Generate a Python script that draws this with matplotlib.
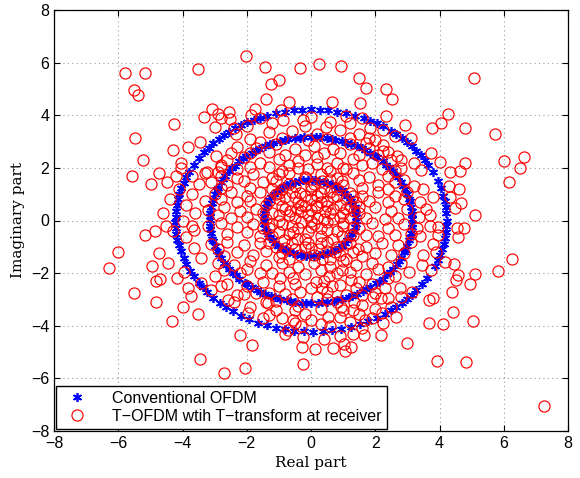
import numpy as np
import matplotlib
matplotlib.use("Agg")
import matplotlib.pyplot as plt

# ---- Conventional OFDM: three constellation rings (radius, centre, angles in deg)
ring_radius = [1.44, 3.15, 4.22]
ring_center_re = [-0.03, 0.0, 0.0]
ring_center_im = [0.10, 0.02, 0.0]

inner_deg = [2, 7, 11, 16, 22, 27, 31, 36, 42, 47, 53, 58, 62, 68, 73, 79, 84, 88,
             93, 99, 104, 109, 115, 120, 124, 130, 136, 141, 147, 152, 157, 163,
             168, 172, 178, 184, 189, 195, 200, 205, 211, 216, 221, 227, 232, 238,
             243, 248, 254, 259, 265, 270, 275, 281, 286, 292, 297, 302, 308, 313,
             319, 324, 329, 335, 340, 346, 351, 356]

middle_deg = [1, 4, 6, 9, 13, 15, 18, 22, 24, 27, 31, 33, 36, 40, 42, 45, 49, 51,
              54, 58, 60, 63, 67, 69, 72, 76, 78, 81, 85, 87, 90, 94, 96, 99, 103,
              105, 108, 112, 114, 117, 121, 123, 126, 130, 132, 135, 139, 141, 144,
              148, 150, 153, 157, 159, 162, 166, 168, 171, 175, 177, 180, 184, 186,
              189, 193, 195, 198, 202, 204, 207, 211, 213, 216, 220, 222, 225, 229,
              231, 234, 238, 240, 243, 247, 249, 252, 256, 258, 261, 265, 267, 270,
              274, 276, 279, 283, 285, 288, 292, 294, 297, 301, 303, 306, 310, 312,
              315, 319, 321, 324, 328, 330, 333, 337, 339, 342, 346, 348, 351, 355, 357]

outer_deg = [0, 4, 7, 10, 13, 17, 21, 26, 30, 33, 36, 39, 42, 45, 48, 51, 54, 58,
             61, 64, 67, 71, 75, 79, 83, 86, 90, 94, 97, 101, 105, 109, 112, 115,
             118, 121, 124, 127, 130, 133, 136, 139, 142, 146, 150, 154, 157, 160,
             163, 166, 169, 172, 175, 178, 181, 184, 187, 190, 193, 196, 200, 203,
             207, 210, 214, 217, 220, 224, 228, 231, 235, 239, 243, 247, 251, 255,
             259, 263, 267, 271, 275, 279, 283, 287, 291, 295, 299, 303, 306, 309,
             312, 315, 318, 321, 325, 329, 336, 339, 342, 345, 348, 351, 354, 357]

ring_angles = [inner_deg, middle_deg, outer_deg]

# ---- T-OFDM with T-transform at receiver: received symbols (real, imag)
tofdm_points = [
    # outer scattered, upper left
    (-5.79, 5.62), (-5.16, 5.62), (-5.52, 4.96), (-5.38, 4.76), (-3.53, 5.75),
    (-2.01, 6.27), (-1.43, 5.85), (-1.01, 5.33), (-1.26, 5.19), (-0.34, 5.78),
    (-1.39, 4.63), (-0.68, 4.51), (-4.26, 3.66), (-5.49, 3.14), (-5.23, 2.29),
    (-5.57, 1.70), (-4.98, 1.38), (-4.74, 1.82), (-4.31, 2.67), (-3.83, 2.78),
    (-3.45, 2.99), (-3.33, 3.94), (-3.07, 4.25), (-2.90, 4.04), (-2.56, 4.13),
    (-2.80, 3.89), (-3.00, 3.54), (-2.52, 3.85), (-2.32, 3.27), (-1.75, 4.24),
    (-1.88, 4.01), (-0.92, 4.20), (-0.88, 3.82), (-0.26, 3.82), (-2.97, 2.47),
    (-4.06, 2.18), (-4.48, 1.47), (-4.04, 1.99), (-3.24, 1.84), (-2.79, 2.05),
    (-4.20, 1.71),
    # outer scattered, upper right
    (0.26, 5.95), (0.93, 5.87), (1.49, 5.43), (1.70, 5.05), (2.34, 5.00),
    (2.51, 4.63), (1.51, 4.48), (0.65, 4.51), (5.07, 5.43), (4.25, 4.04),
    (4.04, 3.70), (3.78, 3.51), (4.78, 3.52), (5.73, 3.28), (6.63, 2.43),
    (6.00, 2.28), (6.51, 2.01), (6.15, 1.46), (4.80, 2.18), (4.63, 1.90),
    (4.33, 1.84), (4.02, 2.24), (3.73, 2.56), (3.41, 1.91), (2.94, 3.63),
    (3.10, 3.13), (2.67, 2.47), (2.34, 3.97), (2.23, 3.44), (1.83, 3.51),
    (1.79, 3.15), (1.10, 3.97), (0.46, 3.57), (5.10, 0.20), (4.66, 0.68),
    (4.47, 0.47), (4.34, 0.91), (3.59, 0.43), (2.23, 2.87), (2.24, 2.66),
    # outer scattered, lower left
    (-6.00, -1.18), (-6.30, -1.79), (-5.52, -2.76), (-5.17, -0.57), (-4.86, -0.40),
    (-4.50, -0.21), (-4.95, -1.73), (-4.82, -2.30), (-4.69, -2.23), (-4.82, -3.11),
    (-4.34, -3.82), (-4.44, -1.63), (-4.16, -2.20), (-3.97, -3.30), (-3.52, -3.55),
    (-3.73, -2.87), (-3.45, -5.27), (-2.70, -5.80), (-2.22, -4.35), (-1.85, -4.73),
    (-0.26, -5.45), (-0.29, -4.79), (-0.25, -4.44), (-0.71, -4.16), (-0.57, -3.78),
    (-0.50, -3.40), (-1.33, -3.14), (-1.96, -3.52), (-2.58, -3.02), (-3.10, -2.64),
    (-3.42, -2.39), (-3.83, -2.57), (-3.94, -1.94), (-3.42, -1.44), (-3.63, -1.06),
    (-3.89, -0.61), (-3.63, -0.36), (-4.72, -1.25), (-2.05, -5.60),
    # outer scattered, lower right
    (6.25, -1.46), (5.81, -1.92), (5.10, -2.04), (4.96, -2.42), (4.58, -2.09),
    (4.51, -2.26), (4.45, -1.64), (4.38, -2.70), (4.43, -3.46), (5.03, -3.82),
    (4.11, -3.94), (3.67, -3.88), (3.67, -3.02), (3.80, -2.93), (2.99, -4.64),
    (3.93, -5.34), (4.84, -5.37), (7.26, -7.04), (2.19, -4.35), (1.65, -4.35),
    (1.25, -4.79), (1.07, -4.95), (1.04, -4.69), (0.70, -4.85), (0.13, -4.89),
    (4.17, -1.56), (3.90, -1.20), (3.44, -1.69), (3.75, -1.88), (3.04, -1.94),
    (3.13, -2.70), (2.76, -2.57), (2.50, -3.27), (2.66, -3.65), (2.24, -3.90),
    (2.40, -2.95), (2.19, -2.96), (1.93, -2.89), (1.30, -3.40), (1.67, -3.78),
    (0.94, -3.27), (0.52, -3.65), (4.58, -0.61), (4.77, -0.30), (4.53, -0.30),
    (3.94, -0.23), (3.96, -0.55), (3.70, -0.21),
    # ring band 3.2 - 4.5
    (-4.1, 1.2), (-3.7, 1.0), (-4.4, 0.8), (-3.9, 0.6), (-3.6, 0.3), (-4.6, 0.3),
    (-4.0, 0.0), (-3.7, -0.2), (-4.3, -0.4), (-3.5, 1.4), (-3.3, 1.8), (-3.7, 1.7),
    (3.5, 1.2), (3.8, 0.9), (3.4, 0.7), (3.7, 0.2), (3.4, -0.6), (3.8, -0.9),
    (3.5, -1.3), (4.6, 1.2), (4.3, 1.3), (3.2, 2.2), (2.8, 2.3), (-2.0, 3.6),
    (-1.6, 3.9), (-1.2, 3.7), (0.0, 3.95), (1.2, 3.7), (1.6, 3.9), (-2.4, 3.5),
    (2.6, 3.2), (-3.0, -2.1), (-2.8, -2.5), (-1.4, -3.1), (-2.4, -3.1), (2.8, -2.9),
    (1.9, -3.7), (-0.3, -4.0), (1.6, -4.1),
    # dense inner cloud
    (-1.3, 3.35), (-0.6, 3.4), (0.2, 3.3), (0.9, 3.45), (1.5, 3.3), (-1.9, 3.1),
    (2.0, 3.05), (-0.2, 3.6), (0.6, 3.75),
    (-2.3, 2.8), (-1.7, 2.75), (-1.1, 2.9), (-0.5, 2.7), (0.1, 2.85), (0.7, 2.7),
    (1.2, 2.9), (1.8, 2.75), (2.4, 2.6), (-0.8, 2.5), (0.4, 2.55), (1.5, 2.5),
    (-2.6, 2.3), (-2.1, 2.4), (-1.6, 2.2), (-1.0, 2.35), (-0.4, 2.25), (0.2, 2.4),
    (0.8, 2.2), (1.3, 2.35), (1.9, 2.2), (2.5, 2.3), (-1.3, 2.05), (0.5, 2.0),
    (2.2, 1.95), (-2.3, 1.95), (-0.1, 1.95),
    (-2.8, 1.7), (-2.3, 1.6), (-1.8, 1.75), (-1.2, 1.6), (-0.7, 1.8), (-0.2, 1.65),
    (0.3, 1.75), (0.8, 1.6), (1.3, 1.8), (1.8, 1.65), (2.4, 1.7), (2.9, 1.55),
    (-1.5, 1.45), (0.1, 1.4), (1.0, 1.35), (-2.6, 1.35), (2.1, 1.35), (-0.5, 1.3),
    (-3.0, 1.0), (-2.5, 1.1), (-2.0, 0.95), (-1.6, 1.1), (-1.1, 1.0), (-0.6, 1.1),
    (-0.2, 0.95), (0.3, 1.05), (0.7, 0.9), (1.2, 1.05), (1.6, 0.95), (2.1, 1.1),
    (2.6, 0.95), (3.0, 1.1), (-1.3, 0.75), (-0.4, 0.7), (0.5, 0.75), (1.4, 0.7),
    (-2.3, 0.7), (2.4, 0.7), (0.0, 0.8), (0.9, 0.6), (-0.9, 0.55),
    (-3.2, 0.4), (-2.7, 0.5), (-2.2, 0.35), (-1.7, 0.45), (-1.2, 0.3), (-0.8, 0.45),
    (-0.3, 0.35), (0.2, 0.5), (0.6, 0.3), (1.1, 0.45), (1.5, 0.3), (2.0, 0.5),
    (2.5, 0.35), (3.0, 0.45), (-0.5, 0.1), (0.4, 0.05), (1.2, 0.1), (-1.4, 0.05),
    (-2.5, 0.1), (2.3, 0.05), (-0.1, 0.2), (0.9, 0.15),
    (-3.2, -0.2), (-2.8, -0.1), (-2.3, -0.25), (-1.8, -0.15), (-1.3, -0.3),
    (-0.9, -0.15), (-0.4, -0.3), (0.1, -0.15), (0.5, -0.35), (1.0, -0.2),
    (1.5, -0.3), (1.9, -0.1), (2.4, -0.3), (2.9, -0.15), (3.3, -0.3), (-0.7, -0.5),
    (0.3, -0.6), (1.2, -0.55), (-1.6, -0.6), (2.1, -0.6), (-0.1, -0.45),
    (-3.1, -0.9), (-2.6, -0.8), (-2.1, -0.95), (-1.6, -0.85), (-1.1, -1.0),
    (-0.6, -0.85), (-0.2, -1.0), (0.3, -0.85), (0.8, -1.0), (1.2, -0.85),
    (1.7, -1.0), (2.2, -0.85), (2.7, -0.95), (3.1, -0.8), (-0.9, -1.25),
    (0.1, -1.3), (0.9, -1.3), (1.6, -1.35), (-1.8, -1.3), (-2.7, -1.35),
    (2.5, -1.3), (0.5, -1.15),
    (-2.9, -1.6), (-2.4, -1.7), (-1.9, -1.55), (-1.4, -1.7), (-0.9, -1.6),
    (-0.4, -1.75), (0.1, -1.6), (0.6, -1.75), (1.0, -1.55), (1.4, -1.7),
    (1.9, -1.6), (2.4, -1.75), (2.8, -1.6), (-1.2, -2.0), (-0.2, -2.05),
    (0.8, -2.0), (0.4, -2.3), (1.7, -2.05), (-2.2, -2.0), (2.6, -2.1),
    (-2.6, -2.4), (-2.0, -2.5), (-1.5, -2.35), (-1.0, -2.5), (-0.5, -2.4),
    (0.0, -2.55), (0.5, -2.7), (0.9, -2.45), (1.4, -2.55), (1.9, -2.4),
    (2.3, -2.55), (-1.7, -2.75), (-0.8, -2.8), (0.2, -2.9), (1.1, -2.85),
    (0.8, -3.1), (-2.3, -2.85),
    (-1.9, -3.3), (-1.1, -3.4), (-0.4, -3.25), (0.3, -3.35), (1.0, -3.4),
    (1.6, -3.2), (2.0, -3.35), (-0.9, -3.7), (0.0, -3.8), (0.6, -4.0),
    (1.2, -3.85), (-1.5, -3.7), (0.9, -4.4), (0.4, -4.5), (-0.8, -4.3),
    (-1.2, 1.2), (-0.7, 1.4), (0.4, 1.25), (0.8, 1.2), (1.3, 0.95), (-1.0, 0.2),
    (-0.3, 0.6), (0.2, 0.95), (0.7, 0.45), (1.0, -0.1), (-0.6, -0.2), (-0.2, -0.7),
    (0.3, -0.3), (0.7, -0.7), (1.1, -0.9), (-1.2, -0.6), (-0.5, -1.1), (0.0, -1.05),
    (0.6, -1.45), (1.3, -0.55), (-1.4, 0.6), (-0.8, 0.9), (0.0, 0.4), (0.5, -0.05),
    (-0.3, -0.05), (0.35, 1.5), (-0.35, 1.05), (0.95, 1.5), (-1.1, 1.5), (1.5, 0.5),
    (-1.5, -0.3), (1.45, -1.1), (-1.0, -1.4), (0.2, 0.1), (-0.7, 0.2), (0.8, 0.95),
    (-0.15, 1.6), (0.6, 1.9), (1.1, 1.95), (-0.4, 2.0), (-0.9, 1.9), (0.95, -1.9),
    (0.15, -2.35), (-0.55, -2.2), (0.65, -2.5), (1.25, -2.25),
    # second layer of the inner cloud
    (-1.6, 3.0), (-0.9, 3.15), (-0.1, 3.05), (0.5, 3.1), (1.2, 3.15), (1.7, 2.95),
    (-2.5, 2.55), (-1.9, 2.55), (-1.3, 2.6), (-0.2, 2.5), (0.9, 2.55), (2.1, 2.5),
    (-2.8, 2.1), (2.8, 2.0), (-1.9, 2.05), (-0.7, 2.1), (0.2, 2.15), (1.0, 2.0),
    (1.6, 2.1), (-2.9, 1.85), (2.6, 1.9), (-2.1, 1.5), (-1.0, 1.75), (0.6, 1.55),
    (1.5, 1.55), (2.6, 1.45), (-3.1, 1.45), (3.2, 1.3), (-2.8, 1.25), (-1.9, 1.25),
    (-0.9, 1.2), (0.0, 1.15), (1.6, 1.25), (2.4, 1.2), (2.9, 0.8), (-2.8, 0.8),
    (-1.9, 0.75), (-1.0, 0.8), (-0.2, 0.55), (0.3, 0.7), (1.1, 0.8), (1.8, 0.75),
    (-3.3, 0.75), (-2.9, 0.2), (-2.0, 0.15), (-1.0, 0.0), (0.0, 0.0), (0.7, 0.05),
    (1.7, 0.1), (2.7, 0.1), (3.35, 0.15), (-1.5, 0.3), (0.45, 0.35), (-0.65, 0.35),
    (1.35, 0.35), (-2.6, -0.5), (-2.0, -0.45), (-1.0, -0.45), (0.0, -0.25),
    (0.8, -0.4), (1.7, -0.55), (2.6, -0.55), (3.1, -0.5), (-0.45, -0.7), (0.5, -0.8),
    (-1.3, -0.85), (-2.9, -1.1), (-2.3, -1.2), (-1.4, -1.15), (-0.35, -1.3),
    (0.35, -1.45), (1.3, -1.2), (2.0, -1.25), (2.9, -1.25), (-0.7, -1.45),
    (1.1, -1.45), (-2.7, -1.9), (-2.0, -1.85), (-1.6, -2.0), (-0.7, -1.95),
    (0.3, -1.9), (1.2, -1.95), (2.1, -1.85), (2.4, -2.2), (-0.95, -2.2),
    (0.55, -2.1), (1.5, -2.35), (-2.1, -2.8), (-1.3, -2.75), (-0.35, -2.7),
    (0.35, -2.55), (1.6, -2.85), (2.0, -2.75), (-0.6, -3.0), (0.5, -3.0),
    (1.35, -3.1), (-1.1, -3.05), (-1.3, -3.6), (-0.2, -3.55), (0.9, -3.65),
    (1.5, -3.55), (0.3, -3.95), (-0.5, -3.9), (1.3, -4.3), (2.2, -3.5),
    (-1.0, 1.05), (-0.5, 0.9), (0.6, 1.1), (1.2, 0.55), (-1.2, -0.15), (-0.85, -0.75),
    (0.25, -1.1), (0.95, -0.6), (0.15, 0.6), (-0.45, 0.45), (0.5, 0.55), (1.0, 0.3),
    (-0.1, -0.85), (0.75, -1.2), (-0.55, -0.45), (0.0, 1.3), (-0.8, -1.05), (1.3, -0.25),
]

tick_vals = [-8, -6, -4, -2, 0, 2, 4, 6, 8]

# ---- build coordinates
conv_re = []
conv_im = []
for r, cx, cy, angs in zip(ring_radius, ring_center_re, ring_center_im, ring_angles):
    a = np.deg2rad(np.array(angs, dtype=float))
    conv_re.extend(cx + r * np.cos(a))
    conv_im.extend(cy + r * np.sin(a))

t_re = [p[0] for p in tofdm_points]
t_im = [p[1] for p in tofdm_points]

fig = plt.figure(figsize=(5.8, 4.78), dpi=100)
ax = fig.add_axes([54 / 580, 1 - 431 / 478, 514 / 580, 421 / 478])

asterisk = (6, 2, 0)
ax.plot(conv_re, conv_im, linestyle="none", marker=asterisk, markersize=6.5,
        markeredgewidth=1.2, color="#0000ff", label="Conventional OFDM")
ax.plot(t_re, t_im, linestyle="none", marker="o", markersize=8,
        markerfacecolor="none", markeredgewidth=0.85, markeredgecolor="#ff0000",
        label="T\u2212OFDM wtih T\u2212transform at receiver")

ax.set_xlim(-8, 8)
ax.set_ylim(-8, 8)
ax.set_xticks(tick_vals)
ax.set_yticks(tick_vals)
ax.set_xticklabels(["\u2212" + str(-t) if t < 0 else str(t) for t in tick_vals],
                   family="Liberation Sans", fontsize=11.5)
ax.set_yticklabels(["\u2212" + str(-t) if t < 0 else str(t) for t in tick_vals],
                   family="Liberation Sans", fontsize=11.5)
ax.tick_params(direction="in", top=True, right=True, length=4, width=0.8)
ax.grid(True, linestyle=(0, (1, 3)), color="#9a9a9a", linewidth=0.8)
for s in ax.spines.values():
    s.set_linewidth(0.9)

ax.set_xlabel("Real part", family="DejaVu Serif", fontsize=11, labelpad=4)
ax.set_ylabel("Imaginary part", family="DejaVu Serif", fontsize=11, labelpad=4)

leg = ax.legend(loc="lower left", borderaxespad=0.15, fancybox=False,
                prop={"family": "Liberation Sans", "size": 11.5},
                handletextpad=1.2, borderpad=0.3, labelspacing=0.2,
                framealpha=1)
leg.get_frame().set_edgecolor("black")
leg.get_frame().set_linewidth(1.0)

fig.savefig("out.png", dpi=100)
